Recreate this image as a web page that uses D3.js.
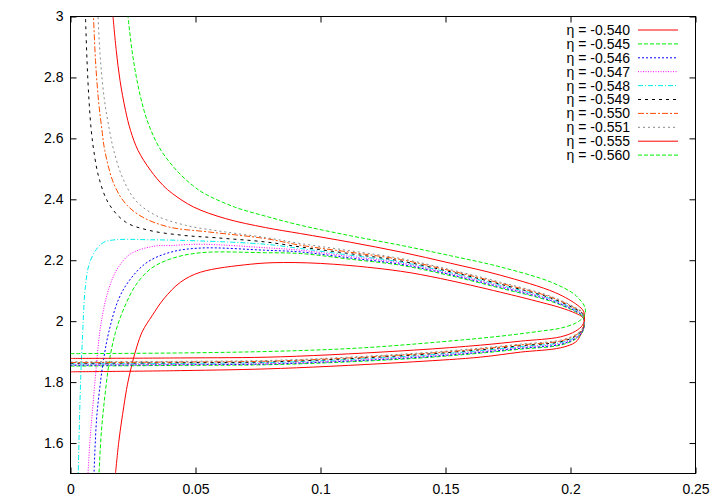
<!DOCTYPE html>
<html>
<head>
<meta charset="utf-8">
<title>eta curves</title>
<script src="https://cdn.jsdelivr.net/npm/d3@7"></script>
<style>
  body { margin: 0; background: #fff; }
  text { font-family: "Liberation Sans", Arial, sans-serif; font-size: 14px; fill: #000; }
</style>
</head>
<body>
<script>

// legend labels, one per curve
var etaLabels = ["η = -0.540", "η = -0.545", "η = -0.546", "η = -0.547", "η = -0.548",
                 "η = -0.549", "η = -0.550", "η = -0.551", "η = -0.555", "η = -0.560"];

// tick labels
var xTicks = [0, 0.05, 0.1, 0.15, 0.2, 0.25];
var xTickLabels = ["0", "0.05", "0.1", "0.15", "0.2", "0.25"];
var yTicks = [1.6, 1.8, 2, 2.2, 2.4, 2.6, 2.8, 3];
var yTickLabels = ["1.6", "1.8", "2", "2.2", "2.4", "2.6", "2.8", "3"];

// each curve: [x, y] points, lower arm -> tip -> upper arm
var c540 = [[0,1.8338],[0.044,1.8377],[0.084,1.8449],[0.1372,1.8666],[0.164,1.8820],[0.18,1.8984],[0.196,1.9125],
  [0.202,1.9311],[0.204,1.9541],[0.2052,1.9803],[0.2056,2.0000],[0.2048,2.0131],[0.202,2.0262],[0.196,2.0443],
  [0.188,2.0623],[0.172,2.0951],[0.148,2.1400],[0.132,2.1639],[0.1052,2.1869],[0.0852,2.1925],[0.072,2.1869],
  [0.052,2.1607],[0.044,2.1279],[0.0373,2.0731],[0.0327,2.0187],[0.0288,1.9672],[0.0266,1.9180],[0.0246,1.8590],
  [0.0228,1.7934],[0.0213,1.7190],[0.0194,1.6098],[0.018,1.5]];
var c545 = [[0,1.8525],[0.044,1.8548],[0.084,1.8580],[0.1372,1.8777],[0.164,1.8951],[0.18,1.9082],[0.196,1.9213],
  [0.202,1.9410],[0.2048,1.9639],[0.2056,1.9967],[0.2048,2.0164],[0.202,2.0311],[0.192,2.0656],[0.172,2.1082],
  [0.152,2.1492],[0.132,2.1836],[0.112,2.2033],[0.092,2.2220],[0.078,2.2246],[0.052,2.2246],[0.040,2.2043],
  [0.032,2.1715],[0.026,2.1170],[0.0213,2.0403],[0.018,1.9639],[0.0156,1.8721],[0.0138,1.7574],[0.0124,1.6426],
  [0.0114,1.5]];
var c546 = [[0,1.8551],[0.044,1.8570],[0.084,1.8603],[0.1372,1.8803],[0.164,1.8977],[0.18,1.9108],[0.196,1.9239],
  [0.202,1.9434],[0.2048,1.9662],[0.2056,1.9984],[0.2048,2.0187],[0.202,2.0334],[0.192,2.0682],[0.172,2.1115],
  [0.152,2.1525],[0.132,2.1869],[0.112,2.2072],[0.092,2.2272],[0.078,2.2328],[0.052,2.2400],[0.040,2.2262],
  [0.0307,2.1934],[0.024,2.1387],[0.0193,2.0731],[0.0153,1.9639],[0.0132,1.8721],[0.0116,1.7738],[0.0104,1.6754],
  [0.0094,1.5]];
var c547 = [[0,1.8574],[0.044,1.8590],[0.084,1.8626],[0.1372,1.8833],[0.164,1.9007],[0.18,1.9138],[0.196,1.9269],
  [0.202,1.9459],[0.2048,1.9682],[0.2056,2.0000],[0.2048,2.0207],[0.202,2.0354],[0.192,2.0711],[0.172,2.1148],
  [0.152,2.1557],[0.132,2.1911],[0.112,2.2121],[0.092,2.2328],[0.078,2.2410],[0.052,2.2525],[0.040,2.2482],
  [0.0333,2.2459],[0.024,2.2207],[0.0187,2.1715],[0.0153,2.1059],[0.0133,2.0410],[0.0117,1.9639],[0.0102,1.8393],
  [0.0088,1.7082],[0.0078,1.6098],[0.007,1.5]];
var c548 = [[0,1.8597],[0.044,1.8613],[0.084,1.8652],[0.1372,1.8859],[0.164,1.9033],[0.18,1.9164],[0.196,1.9295],
  [0.202,1.9484],[0.2048,1.9705],[0.2056,2.0016],[0.2048,2.0230],[0.202,2.0377],[0.192,2.0738],[0.172,2.1180],
  [0.152,2.1590],[0.132,2.1944],[0.112,2.2164],[0.092,2.2384],[0.078,2.2525],[0.052,2.2633],[0.032,2.2672],
  [0.018,2.2672],[0.0133,2.2590],[0.010,2.2318],[0.0073,2.1826],[0.006,2.1170],[0.0053,2.0403],[0.0049,1.9639],
  [0.0042,1.8393],[0.0036,1.6754],[0.0031,1.5]];
var c549 = [[0,1.8620],[0.044,1.8636],[0.084,1.8675],[0.1372,1.8889],[0.164,1.9062],[0.18,1.9193],[0.196,1.9325],
  [0.202,1.9508],[0.2048,1.9728],[0.2056,2.0033],[0.2048,2.0252],[0.202,2.0400],[0.192,2.0764],[0.172,2.1213],
  [0.152,2.1623],[0.132,2.1977],[0.112,2.2213],[0.092,2.2436],[0.078,2.2600],[0.058,2.2738],[0.0447,2.2820],
  [0.0313,2.2984],[0.022,2.3256],[0.0153,2.3859],[0.0113,2.4731],[0.0093,2.5607],[0.0083,2.6262],[0.0074,2.7246],
  [0.0066,2.8557],[0.006,3.0]];
var c550 = [[0,1.8643],[0.044,1.8659],[0.084,1.8698],[0.1372,1.8915],[0.164,1.9088],[0.18,1.9220],[0.196,1.9351],
  [0.202,1.9533],[0.2048,1.9748],[0.2056,2.0049],[0.2048,2.0272],[0.202,2.0420],[0.192,2.0793],[0.172,2.1246],
  [0.152,2.1656],[0.132,2.2023],[0.112,2.2262],[0.092,2.2492],[0.078,2.2711],[0.0553,2.2928],[0.0393,2.3092],
  [0.0287,2.3420],[0.022,2.3859],[0.0173,2.4515],[0.0137,2.5607],[0.0126,2.6262],[0.0112,2.7246],[0.010,2.8557],
  [0.0092,3.0]];
var c551 = [[0,1.8666],[0.044,1.8682],[0.084,1.8721],[0.1372,1.8941],[0.164,1.9115],[0.18,1.9246],[0.196,1.9377],
  [0.202,1.9557],[0.2048,1.9770],[0.2056,2.0066],[0.2048,2.0295],[0.202,2.0443],[0.192,2.0820],[0.172,2.1279],
  [0.152,2.1689],[0.132,2.2056],[0.112,2.2310],[0.092,2.2548],[0.078,2.2744],[0.062,2.2928],[0.046,2.3148],
  [0.034,2.3475],[0.026,2.3967],[0.0207,2.4731],[0.0173,2.5607],[0.0156,2.6262],[0.0136,2.7246],[0.012,2.8557],
  [0.011,3.0]];
var c555 = [[0,1.8777],[0.044,1.8793],[0.084,1.8830],[0.1372,1.9049],[0.164,1.9213],[0.18,1.9344],[0.196,1.9485],
  [0.202,1.9672],[0.2048,1.9869],[0.2056,2.0098],[0.2052,2.0328],[0.2028,2.0525],[0.194,2.0934],[0.172,2.1508],
  [0.152,2.1902],[0.132,2.2272],[0.112,2.2590],[0.092,2.2875],[0.078,2.3072],[0.062,2.3367],[0.0492,2.3748],
  [0.0408,2.4187],[0.037,2.4459],[0.032,2.4951],[0.027,2.5607],[0.024,2.6262],[0.022,2.6918],[0.0198,2.7902],
  [0.0183,2.8885],[0.017,3.0]];
var c560 = [[0,1.8934],[0.044,1.8957],[0.084,1.9016],[0.116,1.9121],[0.148,1.9321],[0.172,1.9508],[0.188,1.9672],
  [0.196,1.9770],[0.202,1.9934],[0.2048,2.0098],[0.206,2.0295],[0.2054,2.0525],[0.2032,2.0754],[0.2012,2.0908],
  [0.192,2.1289],[0.172,2.1780],[0.152,2.2148],[0.132,2.2492],[0.112,2.2803],[0.092,2.3148],[0.0792,2.3420],
  [0.0656,2.3748],[0.0536,2.4187],[0.0488,2.4459],[0.0424,2.4951],[0.0362,2.5607],[0.0322,2.6262],[0.0294,2.6918],
  [0.0266,2.7902],[0.0246,2.8885],[0.023,3.0]];

var curves = [c540, c545, c546, c547, c548, c549, c550, c551, c555, c560];

// gnuplot-like line types
var lineStyles = [
  { color: "#ff0000", dash: null },
  { color: "#00ee00", dash: "4,2" },
  { color: "#0000ff", dash: "2,2" },
  { color: "#ff00ff", dash: "1,1.5" },
  { color: "#00eeee", dash: "5,2,1,2" },
  { color: "#000000", dash: "3,4" },
  { color: "#ff4d00", dash: "6,2,2,2" },
  { color: "#888888", dash: "2,3" },
  { color: "#ff0000", dash: null },
  { color: "#00ee00", dash: "4,2" }
];

var w = 716, h = 501;
var padL = 70.5, padR = 695.5, padT = 16.5, padB = 473.5;

var svg = d3.select("body").append("svg")
    .attr("width", w)
    .attr("height", h);

var x = d3.scaleLinear().domain([0, 0.25]).range([padL, padR]);
var y = d3.scaleLinear().domain([1.5, 3]).range([padB, padT]);

svg.append("clipPath")
    .attr("id", "clip")
  .append("rect")
    .attr("x", padL).attr("y", padT)
    .attr("width", padR - padL).attr("height", padB - padT);

// axes, ticks pointing inward, mirrored on top/right
var tk = 6;
svg.append("g")
    .attr("transform", "translate(0," + padB + ")")
    .call(d3.axisBottom(x).tickValues(xTicks)
        .tickFormat(function(d, i) { return xTickLabels[i]; })
        .tickSize(-tk).tickSizeOuter(0).tickPadding(11));
svg.append("g")
    .attr("transform", "translate(0," + padT + ")")
    .call(d3.axisTop(x).tickValues(xTicks).tickFormat("").tickSize(-tk).tickSizeOuter(0));
svg.append("g")
    .attr("transform", "translate(" + padL + ",0)")
    .call(d3.axisLeft(y).tickValues(yTicks)
        .tickFormat(function(d, i) { return yTickLabels[i]; })
        .tickSize(-tk).tickSizeOuter(0).tickPadding(7));
svg.append("g")
    .attr("transform", "translate(" + padR + ",0)")
    .call(d3.axisRight(y).tickValues(yTicks).tickFormat("").tickSize(-tk).tickSizeOuter(0));

svg.selectAll(".domain").remove();
svg.selectAll(".tick line").attr("stroke", "#000");
svg.selectAll(".tick text")
    .style("font-family", "'Liberation Sans', Arial, sans-serif")
    .style("font-size", "14px");

svg.append("rect")
    .attr("x", padL).attr("y", padT)
    .attr("width", padR - padL).attr("height", padB - padT)
    .attr("fill", "none")
    .attr("stroke", "#000");

var line = d3.line()
    .x(function(d) { return x(d[0]); })
    .y(function(d) { return y(d[1]); })
    .curve(d3.curveCatmullRom.alpha(0.5));

svg.append("g")
    .attr("clip-path", "url(#clip)")
  .selectAll("path")
    .data(curves)
    .enter()
    .append("path")
    .attr("d", line)
    .attr("fill", "none")
    .attr("stroke", function(d, i) { return lineStyles[i].color; })
    .attr("stroke-dasharray", function(d, i) { return lineStyles[i].dash; })
    .attr("stroke-width", 1);

// legend
var legend = svg.append("g");
var rowH = 13.9;
etaLabels.forEach(function(lbl, i) {
  var yy = 30 + i * rowH;
  legend.append("text")
      .attr("x", 630)
      .attr("y", yy)
      .attr("dy", "0.35em")
      .attr("text-anchor", "end")
      .text(lbl);
  legend.append("line")
      .attr("x1", 638).attr("x2", 678)
      .attr("y1", yy).attr("y2", yy)
      .attr("stroke", lineStyles[i].color)
      .attr("stroke-dasharray", lineStyles[i].dash)
      .attr("stroke-width", 1);
});

</script>
</body>
</html>
